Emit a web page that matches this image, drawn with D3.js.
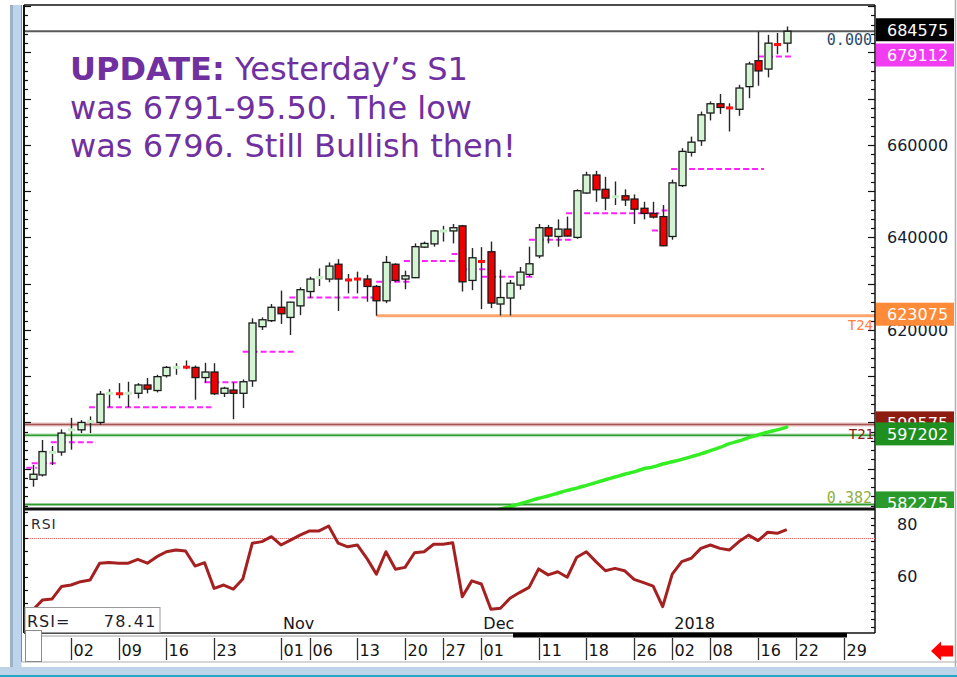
<!DOCTYPE html>
<html><head><meta charset="utf-8">
<script src="https://cdn.jsdelivr.net/npm/d3@7"></script>
<style>
body{margin:0;background:#fff;}
svg{display:block;font-family:"DejaVu Sans",Verdana,sans-serif;}
</style>
</head><body>
<svg id="c" width="957" height="677"></svg>
<script>
// ---------------- DATA ----------------
const dates = [
"2017-09-26","2017-09-27","2017-09-28","2017-09-29",
"2017-10-02","2017-10-03","2017-10-04","2017-10-05","2017-10-06",
"2017-10-09","2017-10-10","2017-10-11","2017-10-12","2017-10-13",
"2017-10-16","2017-10-17","2017-10-18","2017-10-19","2017-10-20",
"2017-10-23","2017-10-24","2017-10-25","2017-10-26","2017-10-27",
"2017-10-30","2017-10-31","2017-11-01","2017-11-02","2017-11-03",
"2017-11-06","2017-11-07","2017-11-08","2017-11-09","2017-11-10",
"2017-11-13","2017-11-14","2017-11-15","2017-11-16","2017-11-17",
"2017-11-20","2017-11-21","2017-11-22","2017-11-24",
"2017-11-27","2017-11-28","2017-11-29","2017-11-30","2017-12-01",
"2017-12-04","2017-12-05","2017-12-06","2017-12-07","2017-12-08",
"2017-12-11","2017-12-12","2017-12-13","2017-12-14","2017-12-15",
"2017-12-18","2017-12-19","2017-12-20","2017-12-21","2017-12-22",
"2017-12-26","2017-12-27","2017-12-28","2017-12-29",
"2018-01-02","2018-01-03","2018-01-04","2018-01-05",
"2018-01-08","2018-01-09","2018-01-10","2018-01-11","2018-01-12",
"2018-01-16","2018-01-17","2018-01-18","2018-01-19"];

const open = [587700,588650,593500,593600,598400,598400,600200,600000,606300,606400,
606300,606300,608100,606900,610100,611900,612200,611900,609700,610900,
606300,607000,606300,609000,620700,622000,624900,622700,625200,628300,
631300,631000,634200,631000,631200,631000,629400,626300,634200,631000,
631300,637900,638600,641400,641400,642500,630700,635100,636900,625600,
626900,629700,632000,636000,642100,640200,641800,640000,649600,653500,
650400,648800,649000,648300,646300,645200,644500,640200,651200,658400,
660900,666900,668900,668300,667700,672600,678200,676400,682000,682000];
const high = [590800,596200,594900,598500,601000,600500,601300,606800,607200,608500,
608800,608500,609600,610300,612200,612800,613400,612300,612900,612800,
607700,608700,609300,622500,622700,625600,628500,626100,629200,631500,
633300,634600,635300,632100,632600,631900,629700,636000,634400,632800,
638700,639100,641600,642500,642900,642700,637700,637900,639100,633000,
630800,633600,638000,642900,642700,643900,644500,650400,654200,654400,
653100,652100,650400,649300,647700,647700,647000,652500,659300,661800,
667200,669400,671000,669000,673000,678000,684500,683800,684200,685600];
const low = [586100,588300,590800,592800,594100,597700,597700,599500,603300,605200,
603300,605200,606300,606500,609700,610300,611500,604900,608600,605900,
605500,600700,603100,607700,620000,621700,621300,618900,623200,626900,
629500,630300,624100,627900,627900,626100,623075,625800,630400,628800,
631200,637700,638000,639100,638700,628300,628600,624500,624700,623100,
623100,628700,631500,635500,638700,638000,640200,639700,649400,647700,
645900,647000,646800,642900,643900,644100,638100,639500,650900,657500,
659800,665300,666700,662900,666300,670100,672800,674600,679600,680000];
const close = [588800,593700,593500,597700,598400,600000,600200,606100,606300,606000,
606300,608100,607200,609900,611900,611900,611700,609700,610900,606200,
607400,606300,608800,621500,622200,624900,623500,626000,628700,631000,
631300,633800,631000,630600,630800,629400,626300,634600,630700,631700,
638000,638700,641400,641400,642100,630400,635600,634500,625800,627000,
630100,632500,634300,642100,640300,641800,640300,650100,653500,650300,
648500,648800,648100,646100,645200,644400,638200,651800,658600,660600,
666500,668900,668100,667700,672300,677500,676000,682000,681400,684575];

const rsi = [47.5,51.3,51.7,56.5,57.1,58.4,59.0,65.5,65.8,65.5,
65.5,67.0,65.5,68.0,69.9,70.6,70.2,64.4,65.7,55.8,
57.1,55.5,59.4,73.2,73.8,75.7,72.5,74.4,76.3,77.9,
77.9,79.8,73.2,71.8,72.5,67.4,61.3,69.9,63.2,63.9,
69.5,69.9,72.8,72.8,73.4,52.6,58.7,57.5,47.8,48.2,
52.0,54.2,56.2,63.3,61.0,62.2,60.1,67.8,69.9,66.1,
62.6,63.5,62.6,59.3,58.0,56.7,48.8,61.3,66.1,67.4,
71.2,72.5,71.2,70.6,73.8,76.3,74.2,77.4,77.0,78.41];

// rising green trend line (bar 48 .. 79)
const trendStartBar = 48;
const trend = [580800,581300,581800,582400,583000,583600,584100,584700,585300,585800,
586400,587000,587600,588200,588800,589300,590000,590400,591000,591500,
592000,592600,593200,593900,594600,595400,596000,596700,597300,597900,598400,599000];

// magenta pivot (S1) segments
const pivFrom  = [-1.2,0.3,2.3,6.3,18.4,22.4,27.3,36.4,39.3,44.3,45.3,47.4,52.4,56.3,65.3,66.3,67.3,76.4];
const pivTo    = [0,2.1,6.2,18.3,21.9,27,35.9,39.2,44.2,44.8,47.2,52.1,56,65.2,65.7,66.8,76.2,79.2];
const pivLevel = [590200,591200,595700,603300,608700,615300,627000,630400,634900,636400,633100,631500,639500,645200,641500,645800,654800,679112];

// horizontal levels
const lastClose = 684575, pivotLabel = 679112, t24 = 623075, t24Start = 36, t21a = 599575, t21b = 597202, fib382 = 582275;

const priceLabels = [660000,640000,620000];
const rsiLabels = [80,60];
const rsiRef = 75;
const tickBars = [4,9,14,19,26,29,34,39,43,47,53,58,63,67,71,76,80,85];
const tickLabels = ["02","09","16","23","01","06","13","20","27","01","11","18","26","02","08","16","22","29"];
const monthBars = [26,47,67];
const monthLabels = ["Nov","Dec","2018"];

// ---------------- LAYOUT ----------------
const L=24, R=875, T=5, MB=508, RT=510, RB=633;
const svg = d3.select("#c");
const x = d3.scaleLinear().domain([4,85]).range([71,844]);
const y = d3.scaleLinear().domain([581500,690250]).range([MB,T]);
const yr = d3.scaleLinear().domain([38.65,85.96]).range([RB,RT]);

const defs = svg.append("defs");
defs.append("clipPath").attr("id","cm").append("rect").attr("x",L).attr("y",T).attr("width",R-L).attr("height",MB-T);
defs.append("clipPath").attr("id","cr").append("rect").attr("x",L).attr("y",RT).attr("width",R-L).attr("height",RB-RT);
defs.append("clipPath").attr("id","cl").append("rect").attr("x",R).attr("y",T).attr("width",957-R).attr("height",MB-T);

// frame
svg.append("rect").attr("x",0).attr("y",0).attr("width",957).attr("height",677).attr("fill","#fff");
svg.append("rect").attr("x",10).attr("y",5).attr("width",3).attr("height",662).attr("fill","#9db1c6");
svg.append("rect").attr("x",13).attr("y",5).attr("width",8.5).attr("height",662).attr("fill","#bcd4ec");
svg.append("line").attr("x1",21.5).attr("x2",21.5).attr("y1",5).attr("y2",662).attr("stroke","#8a8a8a").attr("stroke-width",1);
svg.append("line").attr("x1",22).attr("x2",957).attr("y1",662).attr("y2",662).attr("stroke","#c8c8c8").attr("stroke-width",1.5);
svg.append("rect").attr("x",0).attr("y",667).attr("width",957).attr("height",8).attr("fill","#bcd3ea");
svg.append("rect").attr("x",0).attr("y",675).attr("width",957).attr("height",2).attr("fill","#2aa6c4");
svg.append("line").attr("x1",955.5).attr("x2",955.5).attr("y1",0).attr("y2",667).attr("stroke","#b0b0b0").attr("stroke-width",1.5);

// ---------------- MAIN PANEL ----------------
const gm = svg.append("g").attr("clip-path","url(#cm)");
gm.append("line").attr("x1",L).attr("x2",R).attr("y1",y(lastClose)).attr("y2",y(lastClose)).attr("stroke","#5a5a5a").attr("stroke-width",2);
gm.append("line").attr("x1",x(t24Start)).attr("x2",R).attr("y1",y(t24)).attr("y2",y(t24)).attr("stroke","#ffa56e").attr("stroke-width",3);
gm.append("line").attr("x1",L).attr("x2",R).attr("y1",y(t21a)).attr("y2",y(t21a)).attr("stroke","#e8c4c4").attr("stroke-width",4);
gm.append("line").attr("x1",L).attr("x2",R).attr("y1",y(t21a)).attr("y2",y(t21a)).attr("stroke","#a55555").attr("stroke-width",1.5);
gm.append("line").attr("x1",L).attr("x2",R).attr("y1",y(t21b)).attr("y2",y(t21b)).attr("stroke","#c4e6c4").attr("stroke-width",4);
gm.append("line").attr("x1",L).attr("x2",R).attr("y1",y(t21b)).attr("y2",y(t21b)).attr("stroke","#2f9a2f").attr("stroke-width",1.5);
gm.append("line").attr("x1",L).attr("x2",R).attr("y1",y(fib382)).attr("y2",y(fib382)).attr("stroke","#2f9a2f").attr("stroke-width",2);

pivLevel.forEach((v,i)=>{
  gm.append("line").attr("x1",x(pivFrom[i])-4).attr("x2",x(pivTo[i])+4)
    .attr("y1",y(v)).attr("y2",y(v)).attr("stroke","#ff22ff").attr("stroke-width",2)
    .attr("stroke-dasharray","6,3");
});

const tline = d3.line().x((d,i)=>x(trendStartBar+i)).y(d=>y(d)).curve(d3.curveMonotoneX);
gm.append("path").attr("d",tline(trend)).attr("fill","none").attr("stroke","#33ee22").attr("stroke-width",3.5).attr("stroke-linecap","round");

const bw = 7;
dates.forEach((d,k)=>{
  const o=open[k],h=high[k],l=low[k],c=close[k];
  const cx = Math.round(x(k))+0.5;
  gm.append("line").attr("x1",cx).attr("x2",cx).attr("y1",y(h)).attr("y2",y(l)).attr("stroke","#262626").attr("stroke-width",1.4);
  const top=y(Math.max(o,c)), bot=y(Math.min(o,c));
  const up = c>=o;
  if (bot-top < 3) {
    gm.append("rect").attr("x",cx-bw/2).attr("y",(top+bot)/2-1.5).attr("width",bw).attr("height",3)
      .attr("fill", up ? "#c6f0c6" : "#ff1010");
  } else {
    gm.append("rect").attr("x",cx-bw/2).attr("y",top).attr("width",bw).attr("height",bot-top)
      .attr("fill", up ? "#d4f5d4" : "#ee0000").attr("stroke","#1a1a1a").attr("stroke-width",1.3);
  }
});

svg.append("text").attr("x",872).attr("y",45).attr("text-anchor","end").attr("font-family","DejaVu Sans Mono").attr("font-size",15).attr("fill","#2b4a6b").text("0.000");
svg.append("text").attr("x",872).attr("y",503).attr("text-anchor","end").attr("font-family","DejaVu Sans Mono").attr("font-size",15).attr("fill","#8fb03c").text("0.382");
svg.append("text").attr("x",873).attr("y",330).attr("text-anchor","end").attr("font-family","DejaVu Sans Mono").attr("font-size",14).attr("fill","#ff8040").text("T24");
svg.append("text").attr("x",874).attr("y",439).attr("text-anchor","end").attr("font-family","DejaVu Sans Mono").attr("font-size",14).attr("fill","#8b1a1a").text("T21");

const ann = svg.append("text").attr("font-family","DejaVu Sans").attr("font-size",32).attr("fill","#7030a0");
const l1 = ann.append("tspan").attr("x",70).attr("y",80);
l1.append("tspan").attr("font-weight","bold").text("UPDATE:");
l1.append("tspan").text(" Yesterday\u2019s S1");
ann.append("tspan").attr("x",70).attr("y",119).text("was 6791-95.50. The low");
ann.append("tspan").attr("x",70).attr("y",157).text("was 6796. Still Bullish then!");

svg.append("line").attr("x1",L).attr("x2",R).attr("y1",T).attr("y2",T).attr("stroke","#111").attr("stroke-width",1.5);
svg.append("line").attr("x1",L).attr("x2",L).attr("y1",T).attr("y2",RB).attr("stroke","#111").attr("stroke-width",2);
svg.append("line").attr("x1",R).attr("x2",R).attr("y1",T).attr("y2",RB).attr("stroke","#111").attr("stroke-width",1.5);
svg.append("line").attr("x1",L).attr("x2",R).attr("y1",MB+1).attr("y2",MB+1).attr("stroke","#111").attr("stroke-width",3);
const pticks = d3.range(582000,690001,2000);
pticks.forEach(v=>{
  const major = v%10000===0;
  const yy = Math.round(y(v))+0.5;
  svg.append("line").attr("x1",R-(major?7:4)).attr("x2",R).attr("y1",yy).attr("y2",yy).attr("stroke","#111").attr("stroke-width",1.2);
  svg.append("line").attr("x1",L).attr("x2",L+(major?7:4)).attr("y1",yy).attr("y2",yy).attr("stroke","#111").attr("stroke-width",1.2);
});

const gl = svg.append("g").attr("clip-path","url(#cl)");
priceLabels.forEach(v=>{
  gl.append("text").attr("x",887).attr("y",y(v)).attr("dy","0.36em").attr("font-size",16).attr("fill","#141c30").text(v);
});
function box(v,fill){
  const cy = y(v)-1.5;
  gl.append("rect").attr("x",876).attr("y",cy-11.5).attr("width",78).attr("height",23).attr("fill",fill);
  gl.append("text").attr("x",887).attr("y",cy).attr("dy","0.36em").attr("font-size",16).attr("fill","#fff").text(v);
}
box(t21a,"#8c1c10");
box(t21b,"#1f8f1f");
box(fib382,"#2a9a2a");
box(t24,"#ff8a38");
box(pivotLabel,"#f23cf2");
box(lastClose,"#000");

// ---------------- RSI PANEL ----------------
const gr = svg.append("g").attr("clip-path","url(#cr)");
gr.append("line").attr("x1",L).attr("x2",R).attr("y1",yr(rsiRef)).attr("y2",yr(rsiRef)).attr("stroke","#ff6060").attr("stroke-width",1).attr("stroke-dasharray","1,1");
const rline = d3.line().x((d,i)=>x(i)).y(d=>yr(d));
gr.append("path").attr("d",rline(rsi)).attr("fill","none").attr("stroke","#a52020").attr("stroke-width",3).attr("stroke-linejoin","round");
svg.append("line").attr("x1",L).attr("x2",R).attr("y1",RB).attr("y2",RB).attr("stroke","#111").attr("stroke-width",1.5);
d3.range(40,86,5).forEach(v=>{
  const yy=Math.round(yr(v))+0.5;
  svg.append("line").attr("x1",L).attr("x2",L+4).attr("y1",yy).attr("y2",yy).attr("stroke","#111").attr("stroke-width",1.2);
});
d3.range(41,86,3).forEach(v=>{
  const yy=Math.round(yr(v))+0.5;
  svg.append("line").attr("x1",R-4).attr("x2",R).attr("y1",yy).attr("y2",yy).attr("stroke","#111").attr("stroke-width",1.2);
});
rsiLabels.forEach(v=>{
  svg.append("text").attr("x",897).attr("y",yr(v)-1).attr("dy","0.36em").attr("font-size",16).attr("fill","#141c30").text(v);
});
svg.append("text").attr("x",31).attr("y",529).attr("font-size",14).attr("letter-spacing","1").attr("fill","#2a2a3a").text("RSI");

monthLabels.forEach((m,i)=>{
  svg.append("text").attr("x",x(monthBars[i])+2).attr("y",629).attr("font-size",16).attr("fill","#141414").text(m);
});
svg.append("rect").attr("x",25).attr("y",607.5).attr("width",135).attr("height",25).attr("fill","#fff").attr("stroke","#9a9a9a").attr("stroke-width",1);
svg.append("text").attr("x",27).attr("y",627).attr("font-size",16).attr("letter-spacing","1").attr("fill","#1e1e2a").text("RSI=");
svg.append("text").attr("x",157).attr("y",627).attr("text-anchor","end").attr("font-size",16).attr("letter-spacing","1.5").attr("fill","#1e1e2a").text(rsi[rsi.length-1].toFixed(2));

// ---------------- TIME AXIS ----------------
svg.append("line").attr("x1",42).attr("x2",513).attr("y1",636).attr("y2",636).attr("stroke","#a0a0a0").attr("stroke-width",1);
svg.append("rect").attr("x",513).attr("y",633).attr("width",334).attr("height",4.5).attr("fill","#000");
svg.append("rect").attr("x",25.5).attr("y",630.5).attr("width",16).attr("height",31).attr("fill","#fff").attr("stroke","#8a8a8a").attr("stroke-width",1);
tickBars.forEach((b,i)=>{
  const xx = Math.round(x(b))+0.5;
  svg.append("line").attr("x1",xx).attr("x2",xx).attr("y1",638).attr("y2",660).attr("stroke","#333").attr("stroke-width",1.3);
  svg.append("text").attr("x",xx+2).attr("y",656).attr("font-size",16).attr("fill","#141414").text(tickLabels[i]);
});

svg.append("path").attr("d","M931,651 L941,641.5 L941,645.5 L953,645.5 L953,656.5 L941,656.5 L941,660.5 Z").attr("fill","#ff0000");
</script>
</body></html>
